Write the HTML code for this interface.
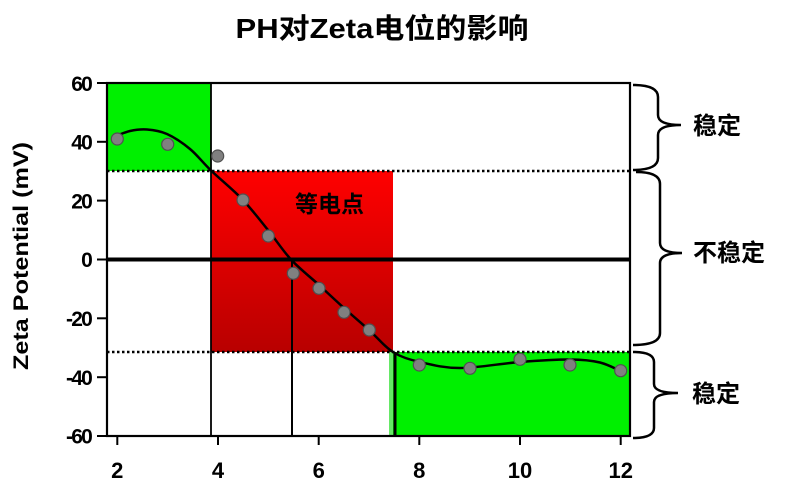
<!DOCTYPE html>
<html><head><meta charset="utf-8"><style>
html,body{margin:0;padding:0;background:#fff;}
svg{display:block;}
text{font-family:"Liberation Sans","Noto Sans CJK SC",sans-serif;font-weight:bold;fill:#000;}
</style></head><body>
<svg width="800" height="487" viewBox="0 0 800 487" xmlns="http://www.w3.org/2000/svg">
<defs>
<linearGradient id="rg" x1="0" y1="0" x2="0" y2="1">
<stop offset="0" stop-color="#ff0000"/>
<stop offset="1" stop-color="#b80000"/>
</linearGradient>
</defs>
<!-- title -->
<text x="382" y="38" font-size="28" text-anchor="middle" textLength="293" lengthAdjust="spacingAndGlyphs">PH对Zeta电位的影响</text>
<!-- regions -->
<rect x="107" y="83" width="104" height="88" fill="#00f000"/>
<rect x="211" y="171" width="182" height="181" fill="url(#rg)"/>
<rect x="389" y="352" width="241" height="84" fill="#00f000"/>
<rect x="389" y="352" width="4" height="84" fill="#66e866"/>
<!-- dotted lines -->
<line x1="107" y1="171" x2="630" y2="171" stroke="#000" stroke-width="2.5" stroke-dasharray="2.5,2.5"/>
<line x1="107" y1="352" x2="630" y2="352" stroke="#000" stroke-width="2.5" stroke-dasharray="2.5,2.5"/>
<!-- verticals -->
<line x1="211" y1="83" x2="211" y2="436" stroke="#000" stroke-width="1.8"/>
<line x1="292" y1="259.5" x2="292" y2="436" stroke="#000" stroke-width="2"/>
<line x1="395" y1="352" x2="395" y2="436" stroke="#000" stroke-width="3"/>
<!-- zero line -->
<line x1="107" y1="259.5" x2="630" y2="259.5" stroke="#000" stroke-width="4"/>
<!-- frame -->
<rect x="107" y="83" width="523" height="353" fill="none" stroke="#000" stroke-width="2.2"/>
<!-- ticks -->
<g stroke="#000" stroke-width="2">
<line x1="97" y1="83" x2="107" y2="83"/>
<line x1="97" y1="141.8" x2="107" y2="141.8"/>
<line x1="97" y1="200.6" x2="107" y2="200.6"/>
<line x1="97" y1="259.5" x2="107" y2="259.5"/>
<line x1="97" y1="318.3" x2="107" y2="318.3"/>
<line x1="97" y1="377.2" x2="107" y2="377.2"/>
<line x1="97" y1="436" x2="107" y2="436"/>
<line x1="117.3" y1="436" x2="117.3" y2="445"/>
<line x1="218" y1="436" x2="218" y2="445"/>
<line x1="318.7" y1="436" x2="318.7" y2="445"/>
<line x1="419.3" y1="436" x2="419.3" y2="445"/>
<line x1="520" y1="436" x2="520" y2="445"/>
<line x1="620.7" y1="436" x2="620.7" y2="445"/>
</g>
<g font-size="21" text-anchor="end" letter-spacing="-1.8">
<text x="91" y="91">60</text>
<text x="91" y="149.5">40</text>
<text x="91" y="208.5">20</text>
<text x="91" y="267">0</text>
<text x="91" y="326">-20</text>
<text x="91" y="385">-40</text>
<text x="91" y="443.5">-60</text>
</g>
<g font-size="22" text-anchor="middle">
<text x="117.3" y="478">2</text>
<text x="218" y="478">4</text>
<text x="318.7" y="478">6</text>
<text x="419.3" y="478">8</text>
<text x="520" y="478">10</text>
<text x="620.7" y="478">12</text>
</g>
<!-- y label -->
<text transform="translate(28,256) rotate(-90)" font-size="21" text-anchor="middle" textLength="228" lengthAdjust="spacingAndGlyphs">Zeta Potential (mV)</text>
<!-- curve -->
<path d="M113,137 C118.67,135 124.33,132.25 130,131 C135.67,129.75 140.83,129 147,129.5 C153.17,130 159.83,130.75 167,134 C174.17,137.25 182.67,142.92 190,149 C197.33,155.08 202.33,162.170 211,170.5 C219.67,178.83 232.5,189.08 242,199 C251.5,208.92 259.83,219.92 268,230 C276.17,240.08 282.5,250.33 291,259.5 C299.5,268.67 310.17,276.92 319,285 C327.83,293.08 335.67,300.5 344,308 C352.33,315.5 360.83,322.67 369,330 C377.17,337.33 384.5,346.67 393,352 C401.5,357.33 408.83,359.33 420,362 C431.17,364.67 443.33,368 460,368 C476.67,368 501.67,363.42 520,362 C538.33,360.58 556.67,359.42 570,359.5 C583.33,359.58 590.83,360.25 600,362.5 C609.17,364.75 616.67,369.5 625,373" fill="none" stroke="#000" stroke-width="2.5"/>
<!-- points -->
<g fill="#808080" stroke="#505050" stroke-width="1.2">
<circle cx="117.3" cy="139" r="6"/>
<circle cx="167.7" cy="144.3" r="6"/>
<circle cx="217.7" cy="156" r="6"/>
<circle cx="243" cy="200" r="6"/>
<circle cx="268.3" cy="236" r="6"/>
<circle cx="293.3" cy="273.3" r="6"/>
<circle cx="319" cy="288.3" r="6"/>
<circle cx="344" cy="312.3" r="6"/>
<circle cx="369.3" cy="330" r="6"/>
<circle cx="419.3" cy="365" r="6"/>
<circle cx="470" cy="368.3" r="6"/>
<circle cx="520" cy="359.3" r="6"/>
<circle cx="570" cy="365" r="6"/>
<circle cx="620.7" cy="370.7" r="6"/>
</g>
<text x="329.5" y="212" font-size="23" text-anchor="middle">等电点</text>
<!-- braces -->
<g fill="none" stroke="#000" stroke-width="2.5">
<path d="M633,85 Q658,85 658,97 L658,115 Q658,125 681,125 Q658,125 658,135 L658,158 Q658,170 633,170"/>
<path d="M636,172 Q660,172 660,184 L660,243 Q660,253 682,253 Q660,253 660,263 L660,333 Q660,345 633,345"/>
<path d="M633,352 Q654,352 654,362 L654,384 Q654,393 678,393 Q654,393 654,402 L654,428 Q654,438 633,438"/>
</g>
<g font-size="24">
<text x="693" y="134">稳定</text>
<text x="693" y="261">不稳定</text>
<text x="692" y="402">稳定</text>
</g>
</svg>
</body></html>
